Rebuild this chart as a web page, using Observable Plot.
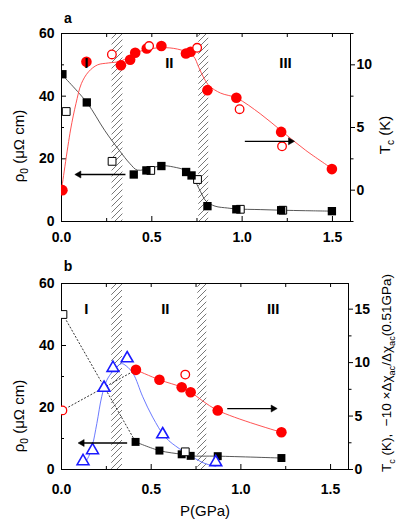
<!DOCTYPE html>
<html><head><meta charset="utf-8">
<script src="https://cdn.jsdelivr.net/npm/d3@7"></script>
<script src="https://cdn.jsdelivr.net/npm/@observablehq/plot@0.6"></script>
<style>
body{margin:0;background:#fff;}
#wrap{position:relative;width:409px;height:529px;}
#wrap svg{position:absolute;left:0;}
</style></head><body><div id="wrap"></div>
<script>
// ---------- Panel a data ----------
const aSqFilledP   = [0.005, 0.14, 0.40, 0.47, 0.553, 0.69, 0.72, 0.808, 0.968, 1.216, 1.497];
const aSqFilledRho = [47, 38, 15, 16.3, 17.7, 15.8, 14.7, 4.9, 3.9, 3.6, 3.3];
const aSqOpenP     = [0.026, 0.28, 0.494, 0.753, 0.99, 1.225];
const aSqOpenRho   = [35.1, 19.2, 16.3, 13.4, 3.9, 3.6];
const aCircFilledP  = [0.005, 0.138, 0.329, 0.38, 0.408, 0.472, 0.553, 0.689, 0.715, 0.808, 0.968, 1.216, 1.497];
const aCircFilledTc = [0, 10.24, 9.97, 10.4, 10.96, 11.3, 11.5, 10.9, 11.04, 7.98, 7.37, 4.65, 1.68];
const aCircOpenP  = [0.279, 0.485, 0.751, 0.986, 1.221];
const aCircOpenTc = [10.83, 11.5, 11.36, 6.46, 3.5];
const aFitRhoP = [0, 0.14, 0.24, 0.32, 0.38, 0.42, 0.5, 0.56, 0.62, 0.69, 0.73, 0.77, 0.8, 0.85, 0.92, 0.97, 1.1, 1.22, 1.35, 1.5];
const aFitRho  = [47, 38, 29, 22.7, 18.4, 16.4, 17.2, 17.8, 17.4, 16.2, 13.8, 9.5, 6.5, 4.9, 4.3, 4.0, 3.8, 3.6, 3.45, 3.3];
const aFitTcP = [0, 0.05, 0.08, 0.11, 0.15, 0.2, 0.26, 0.33, 0.4, 0.5, 0.6, 0.68, 0.73, 0.76, 0.79, 0.82, 0.88, 0.97, 1.1, 1.22, 1.35, 1.5];
const aFitTc  = [0, 4.8, 6.9, 8.5, 9.45, 10, 10.15, 10.3, 10.9, 11.3, 11.35, 11.1, 10.7, 9.8, 8.9, 8.3, 7.75, 7.35, 6.1, 4.7, 3.2, 1.7];
const aBandStart = [0.28, 0.76];
const aBandEnd   = [0.34, 0.815];
const regionNames = ["I", "II", "III"];
const aRegionP = [0.138, 0.597, 1.24];
const aRegionRho = 50.6;
// arrows: [from P, to P, value, axis]
const aArrowFrom = [0.354, 1.015];
const aArrowTo   = [0.096, 1.268];
const aArrowVal  = [15, 3.9];
const aArrowAxis = ["rho", "Tc"];

// ---------- Panel b data ----------
const bSqFilledP   = [0.413, 0.546, 0.67, 0.72, 0.871, 1.226];
const bSqFilledRho = [8.9, 6.1, 4.9, 4.4, 4.3, 3.7];
const bSqOpenP   = [0.008, 0.69];
const bSqOpenRho = [50, 5.7];
const bCircFilledP  = [0.415, 0.546, 0.67, 0.72, 0.871, 1.226];
const bCircFilledTc = [9.32, 8.39, 7.7, 7.23, 5.53, 3.48];
const bCircOpenP  = [0.005, 0.69];
const bCircOpenTc = [5.53, 8.88];
const bTriP   = [0.12, 0.173, 0.237, 0.287, 0.366, 0.564, 0.86];
const bTriVal = [0.77, 1.8, 7.64, 9.5, 10.4, 3.29, 0.68];
const bFitP   = [0.12, 0.145, 0.17, 0.197, 0.224, 0.251, 0.289, 0.334, 0.36, 0.4, 0.453, 0.508, 0.58, 0.656, 0.73, 0.8, 0.86];
const bFitVal = [0.5, 1.0, 2.1, 4.3, 6.8, 8.3, 9.25, 9.9, 9.7, 8.95, 6.8, 4.9, 3.0, 1.96, 1.17, 0.56, 0.3];
const bDotSqP = [0.008, 0.413];
const bDotSqRho = [50, 8.9];
const bDotCircP = [0.005, 0.415];
const bDotCircTc = [5.53, 9.32];
const bBandStart = [0.28, 0.76];
const bBandEnd   = [0.34, 0.81];
const bRegionP = [0.139, 0.579, 1.18];
const bRegionRho = 51.8;
const bArrowFrom = [0.366, 0.924];
const bArrowTo   = [0.115, 1.18];
const bArrowVal  = [8.55, 5.7];
const bArrowAxis = ["rho", "Tc"];

// tick values
const rhoMajor = [0, 20, 40, 60];
const rhoMinor = [10, 30, 50];
const pMajor = [0, 0.5, 1.0, 1.5];
const pMinor = [0.25, 0.75, 1.25];
const tcAMajor = [0, 5, 10];
const tcAMinor = [-2.5, 2.5, 7.5, 12.5];
const tcBMajor = [0, 5, 10, 15];
const tcBMinor = [2.5, 7.5, 12.5];

// right-axis mapping into rho units
const toA = t => (t + 2.5) * 4;      // Tc (K) -> rho, panel a (-2.5..12.5)
const fromA = r => r / 4 - 2.5;
const toB = t => t * 60 / 17.4;      // panel b (0..17.4)
const fromB = r => r * 17.4 / 60;

const zip = (xs, ys, f = v => v) => xs.map((x, i) => ({x, y: f(Array.isArray(ys) ? ys[i] : ys)}));

const FONT = "'Liberation Sans', Arial, Helvetica, sans-serif";
const RED = "#ff0000", BLUE = "#1a1aff";

function hatch(svg, id) {
  const defs = d3.select(svg).insert("defs", ":first-child");
  const p = defs.append("pattern").attr("id", id).attr("patternUnits", "userSpaceOnUse")
    .attr("width", 6).attr("height", 6);
  p.append("path").attr("d", "M-1,1 L1,-1 M0,6 L6,0 M5,7 L7,5")
    .attr("stroke", "#555").attr("stroke-width", 0.8);
}

function addLabel(svg, x, y, rot, parts, size) {
  const t = d3.select(svg).append("text")
    .attr("transform", `translate(${x},${y}) rotate(${rot})`)
    .attr("text-anchor", "middle").attr("dy", "0.35em")
    .attr("font-family", FONT).attr("font-weight", "normal").attr("font-size", size).attr("fill", "black");
  let shifted = 0;
  for (const [s, sub] of parts) {
    const ts = t.append("tspan").text(s);
    if (sub) { ts.attr("dy", 4 - shifted).attr("font-size", size * 0.68); shifted = 4; }
    else if (shifted) { ts.attr("dy", -shifted); shifted = 0; }
  }
}

function commonTicks(frameW, frameH, toR, fromR, tcMajor, tcMinor, bottomPad) {
  return [
    Plot.frame({stroke: "black", strokeWidth: 1}),
    Plot.tickY(rhoMajor, {y: d => d, insetRight: frameW - 5, stroke: "black"}),
    Plot.tickY(rhoMinor, {y: d => d, insetRight: frameW - 3, stroke: "black"}),
    Plot.tickX(pMajor, {x: d => d, insetTop: frameH - 5, stroke: "black"}),
    Plot.tickX(pMinor, {x: d => d, insetTop: frameH - 3, stroke: "black"}),
    Plot.tickX(pMajor.concat(pMinor), {x: d => d, insetBottom: frameH - 4, stroke: "black"}),
    Plot.axisY({anchor: "left", ticks: rhoMajor, tickSize: 0, tickPadding: 7, label: null}),
    Plot.axisX({anchor: "bottom", ticks: pMajor, tickSize: 0, tickPadding: bottomPad, tickFormat: d3.format(".1f"), label: null}),
    Plot.axisY({anchor: "right", ticks: tcMajor.map(toR), tickSize: 4, tickPadding: 2, tickFormat: d => String(Math.round(fromR(d))), label: null}),
    Plot.axisY({anchor: "right", ticks: tcMinor.map(toR).filter(v => v >= 0 && v <= 60), tickSize: 2.5, tickFormat: () => "", label: null})
  ];
}

function arrows(from, to, val, axis, toR) {
  const d = from.map((f, i) => ({x1: f, x2: to[i], y: axis[i] === "Tc" ? toR(val[i]) : val[i]}));
  return [
    Plot.link(d, {x1: "x1", x2: "x2", y1: "y", y2: "y", stroke: "black", strokeWidth: 1.3}),
    Plot.dot(d, {x: "x2", y: "y", symbol: "triangle", r: 2.6, fill: "black", stroke: "black", strokeWidth: 0.5,
      rotate: e => e.x2 > e.x1 ? 90 : -90})
  ];
}

const style = {fontFamily: FONT, fontSize: "14px", fontWeight: "bold", color: "black", background: "transparent", overflow: "visible"};

// ---------- Panel a ----------
const aH = 250, aMT = 33, aMB = 29, aML = 61, aMR = 59;
const aFW = 409 - aML - aMR, aFH = aH - aMT - aMB;
const aBands = aBandStart.map((s, i) => ({x1: s, x2: aBandEnd[i]}));
const plotA = Plot.plot({
  width: 409, height: aH, marginTop: aMT, marginBottom: aMB, marginLeft: aML, marginRight: aMR,
  x: {domain: [0, 1.6], axis: null},
  y: {domain: [0, 60], axis: null},
  style,
  marks: [
    Plot.rect(aBands, {x1: "x1", x2: "x2", fill: "url(#hatchA)"}),
    ...commonTicks(aFW, aFH, toA, fromA, tcAMajor, tcAMinor, 11),
    Plot.line(zip(aFitRhoP, aFitRho), {x: "x", y: "y", stroke: "#444", strokeWidth: 0.9, curve: "catmull-rom"}),
    Plot.line(zip(aFitTcP, aFitTc, toA), {x: "x", y: "y", stroke: "#ff4040", strokeWidth: 0.9, curve: "catmull-rom"}),
    Plot.dot(zip(aSqOpenP, aSqOpenRho), {x: "x", y: "y", symbol: "square", r: 4.4, fill: "white", stroke: "black", strokeWidth: 1, clip: true}),
    Plot.dot(zip(aSqFilledP, aSqFilledRho), {x: "x", y: "y", symbol: "square", r: 4.7, fill: "black", clip: true}),
    Plot.dot(zip(aCircFilledP, aCircFilledTc, toA), {x: "x", y: "y", r: 5.3, fill: RED, clip: true}),
    Plot.dot(zip(aCircOpenP, aCircOpenTc, toA), {x: "x", y: "y", r: 4.3, fill: "white", stroke: RED, strokeWidth: 1.3, clip: true}),
    ...arrows(aArrowFrom, aArrowTo, aArrowVal, aArrowAxis, toA),
    Plot.text(regionNames, {x: (d, i) => aRegionP[i], y: () => aRegionRho, text: d => d, fontSize: 15, fontWeight: "bold", fill: "black"})
  ]
});
hatch(plotA, "hatchA");
plotA.style.top = "0px";
addLabel(plotA, 19, 146, -90, [["ρ", false], ["0", true], [" (μΩ cm)", false]], 15);
addLabel(plotA, 385, 135, -90, [["T", false], ["c", true], [" (K)", false]], 15);
d3.select(plotA).append("text").attr("x", 68).attr("y", 18).attr("dy", "0.35em").attr("text-anchor", "middle")
  .attr("font-family", FONT).attr("font-weight", "bold").attr("font-size", 14).text("a");
document.getElementById("wrap").appendChild(plotA);

// ---------- Panel b ----------
const bTop = 250, bH = 279, bMT = 33, bMB = 60, bML = 61, bMR = 61;
const bFW = 409 - bML - bMR, bFH = bH - bMT - bMB;
const bBands = bBandStart.map((s, i) => ({x1: s, x2: bBandEnd[i]}));
const plotB = Plot.plot({
  width: 409, height: bH, marginTop: bMT, marginBottom: bMB, marginLeft: bML, marginRight: bMR,
  x: {domain: [0, 1.6], axis: null},
  y: {domain: [0, 60], axis: null},
  style,
  marks: [
    Plot.rect(bBands, {x1: "x1", x2: "x2", fill: "url(#hatchB)"}),
    ...commonTicks(bFW, bFH, toB, fromB, tcBMajor, tcBMinor, 15),
    Plot.line(zip(bDotSqP, bDotSqRho), {x: "x", y: "y", stroke: "#333", strokeWidth: 1, strokeDasharray: "1.2,2.4"}),
    Plot.line(zip(bDotCircP, bDotCircTc, toB), {x: "x", y: "y", stroke: "#333", strokeWidth: 1, strokeDasharray: "1.2,2.4"}),
    Plot.line(zip(bSqFilledP, bSqFilledRho), {x: "x", y: "y", stroke: "#444", strokeWidth: 0.9, curve: "catmull-rom"}),
    Plot.line(zip(bCircFilledP, bCircFilledTc, toB), {x: "x", y: "y", stroke: "#ff4040", strokeWidth: 0.9, curve: "catmull-rom"}),
    Plot.line(zip(bFitP, bFitVal, toB), {x: "x", y: "y", stroke: "#5a6bff", strokeWidth: 0.9, curve: "catmull-rom"}),
    Plot.dot(zip(bSqFilledP, bSqFilledRho), {x: "x", y: "y", symbol: "square", r: 4.5, fill: "black", clip: true}),
    Plot.dot(zip(bSqOpenP, bSqOpenRho), {x: "x", y: "y", symbol: "square", r: 4.4, fill: "white", stroke: "black", strokeWidth: 1, clip: true}),
    Plot.dot(zip(bCircFilledP, bCircFilledTc, toB), {x: "x", y: "y", r: 5.3, fill: RED, clip: true}),
    Plot.dot(zip(bCircOpenP, bCircOpenTc, toB), {x: "x", y: "y", r: 4.3, fill: "white", stroke: RED, strokeWidth: 1.3, clip: true}),
    Plot.dot(zip(bTriP, bTriVal, toB), {x: "x", y: "y", symbol: "triangle", r: 4.4, fill: "white", stroke: BLUE, strokeWidth: 1.6, clip: true}),
    ...arrows(bArrowFrom, bArrowTo, bArrowVal, bArrowAxis, toB),
    Plot.text(regionNames, {x: (d, i) => bRegionP[i], y: () => bRegionRho, text: d => d, fontSize: 15, fontWeight: "bold", fill: "black"})
  ]
});
hatch(plotB, "hatchB");
plotB.style.top = bTop + "px";
addLabel(plotB, 19, 416 - bTop, -90, [["ρ", false], ["0", true], [" (μΩ cm)", false]], 15);
addLabel(plotB, 386, 373 - bTop, -90, [["T", false], ["c", true], [" (K),  −10 ×Δχ", false], ["ac", true], ["/Δχ", false], ["ac", true], ["(0.51GPa)", false]], 13.5);
addLabel(plotB, 205, 511 - bTop, 0, [["P(GPa)", false]], 15);
d3.select(plotB).append("text").attr("x", 68).attr("y", 266 - bTop).attr("dy", "0.35em").attr("text-anchor", "middle")
  .attr("font-family", FONT).attr("font-weight", "bold").attr("font-size", 14).text("b");
document.getElementById("wrap").appendChild(plotB);
</script></body></html>
